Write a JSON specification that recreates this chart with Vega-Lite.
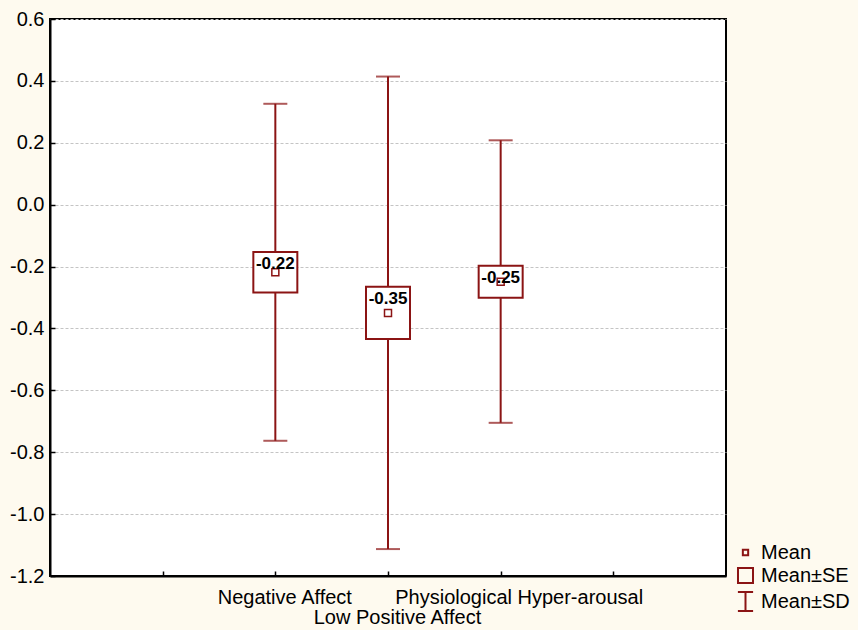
{
  "$schema": "https://vega.github.io/schema/vega-lite/v6.json",
  "width": 676,
  "height": 557,
  "autosize": "none",
  "padding": {"left": 50, "top": 19, "right": 132, "bottom": 54},
  "background": "#fefaef",
  "config": {
    "view": {"fill": "white", "stroke": "black", "strokeWidth": 2},
    "font": "Liberation Sans"
  },
  "data": {
    "values": [
      {"cat": "Negative Affect", "mean": -0.218, "label": "-0.22", "se_lo": -0.284, "se_hi": -0.153, "sd_lo": -0.763, "sd_hi": 0.326},
      {"cat": "Low Positive Affect", "mean": -0.35, "label": "-0.35", "se_lo": -0.434, "se_hi": -0.265, "sd_lo": -1.113, "sd_hi": 0.414},
      {"cat": "Physiological Hyper-arousal", "mean": -0.249, "label": "-0.25", "se_lo": -0.301, "se_hi": -0.197, "sd_lo": -0.705, "sd_hi": 0.208}
    ]
  },
  "encoding": {
    "x": {
      "field": "cat",
      "type": "nominal",
      "sort": null,
      "scale": {"type": "point", "domain": [" ", "Negative Affect", "Low Positive Affect", "Physiological Hyper-arousal", "  "], "padding": 1},
      "axis": {
        "title": null,
        "grid": false,
        "labelAngle": 0,
        "labelFontSize": 20,
        "labelColor": "black",
        "labelFont": "Liberation Sans",
        "labelBaseline": "top",
        "labelLineHeight": 20,
        "labelPadding": 16,
        "labelLimit": 500,
        "labelExpr": "datum.value == 'Low Positive Affect' ? ['', datum.value] : datum.value",
        "labelOffset": {"condition": {"test": "datum.value == 'Physiological Hyper-arousal'", "value": 18}, "value": 9},
        "tickSize": -5,
        "tickWidth": 1.5,
        "tickColor": "black",
        "domainColor": "black",
        "domainWidth": 2
      }
    }
  },
  "layer": [
    {
      "mark": {"type": "rule", "color": "#8b1414", "strokeWidth": 2},
      "encoding": {
        "y": {
          "field": "sd_lo",
          "type": "quantitative",
          "scale": {"domain": [-1.2, 0.6], "nice": false, "zero": false},
          "axis": {
            "title": null,
            "values": [-1.2, -1.0, -0.8, -0.6, -0.4, -0.2, 0.0, 0.2, 0.4, 0.6],
            "labelExpr": "replace(format(datum.value, '.1f'), '\u2212', '-')",
            "labelFontSize": 20,
            "labelColor": "black",
            "labelFont": "Liberation Sans",
            "labelPadding": 11,
            "tickSize": -5,
            "tickWidth": 1.5,
            "tickColor": "black",
            "domainColor": "black",
            "domainWidth": 2,
            "grid": true,
            "gridColor": "#c4c4c4",
            "gridDash": [3, 2],
            "gridWidth": 1
          }
        },
        "y2": {"field": "sd_hi"}
      }
    },
    {
      "mark": {"type": "tick", "color": "#8b1414", "size": 24, "thickness": 2, "orient": "horizontal"},
      "encoding": {"y": {"field": "sd_hi", "type": "quantitative"}}
    },
    {
      "mark": {"type": "tick", "color": "#8b1414", "size": 24, "thickness": 2, "orient": "horizontal"},
      "encoding": {"y": {"field": "sd_lo", "type": "quantitative"}}
    },
    {
      "mark": {"type": "bar", "fill": "white", "stroke": "#8b1414", "strokeWidth": 2, "width": 44},
      "encoding": {
        "y": {"field": "se_lo", "type": "quantitative"},
        "y2": {"field": "se_hi"}
      }
    },
    {
      "mark": {"type": "point", "filled": false, "strokeWidth": 1.5, "size": 625, "opacity": 1},
      "encoding": {
        "y": {"field": "mean", "type": "quantitative"},
        "color": {
          "datum": "Mean",
          "scale": {
            "domain": ["Mean", "Mean\u00b1SE", "Mean\u00b1SD"],
            "range": ["#8b1414", "#8b1414", "#8b1414"]
          },
          "legend": {
            "title": null,
            "orient": "none",
            "legendX": 685,
            "legendY": 523,
            "padding": 0,
            "symbolSize": 361,
            "symbolFillColor": "white",
            "symbolStrokeWidth": 2,
            "symbolOpacity": 1,
            "labelFontSize": 20,
            "labelFont": "Liberation Sans",
            "labelColor": "black",
            "labelOffset": 5,
            "rowPadding": 0,
            "labelLimit": 200
          }
        },
        "shape": {
          "datum": "Mean",
          "scale": {
            "domain": ["Mean", "Mean\u00b1SE", "Mean\u00b1SD"],
            "range": ["M-0.28,-0.28H0.28V0.28H-0.28Z", "M-0.79,-0.79H0.79V0.79H-0.79Z", "M-0.8,-1H0.8M0,-1V1M-0.8,1H0.8"]
          },
          "legend": {
            "title": null,
            "orient": "none",
            "legendX": 685,
            "legendY": 523,
            "padding": 0,
            "symbolSize": 361,
            "symbolFillColor": "white",
            "symbolStrokeWidth": 2,
            "symbolOpacity": 1,
            "labelFontSize": 20,
            "labelFont": "Liberation Sans",
            "labelColor": "black",
            "labelOffset": 5,
            "rowPadding": 0,
            "labelLimit": 200
          }
        }
      }
    },
    {
      "mark": {"type": "text", "fontWeight": "bold", "fontSize": 17, "font": "Liberation Sans", "baseline": "top", "dy": 4, "color": "black"},
      "encoding": {
        "y": {"field": "se_hi", "type": "quantitative"},
        "text": {"field": "label"}
      }
    }
  ]
}
